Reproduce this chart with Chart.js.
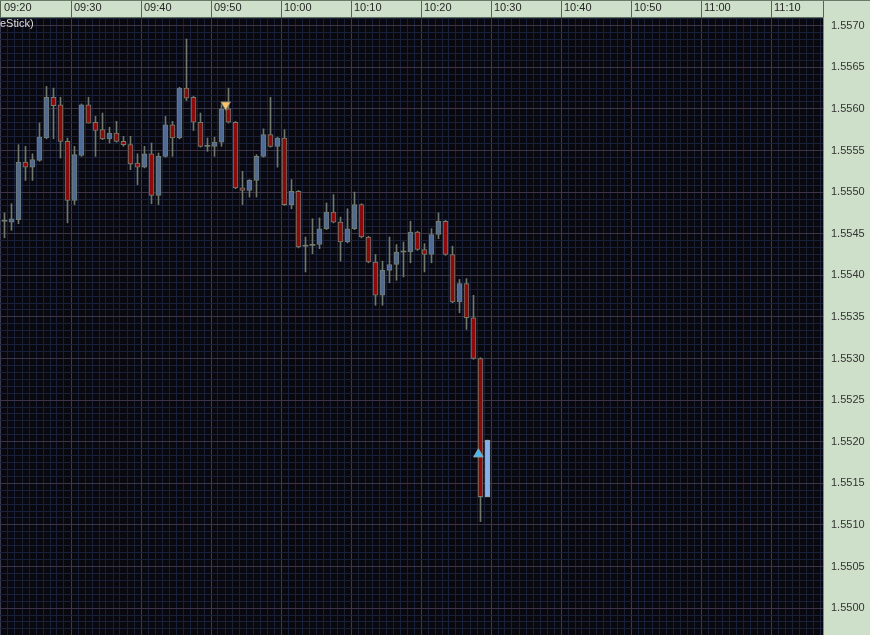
<!DOCTYPE html>
<html><head><meta charset="utf-8">
<script src="https://cdn.jsdelivr.net/npm/chart.js@4.4.1/dist/chart.umd.min.js"></script>
<style>
html,body{margin:0;padding:0;background:#cfe0ca;overflow:hidden;}
#wrap{position:relative;width:870px;height:635px;}
#topline{position:absolute;left:0;top:0;width:870px;height:1px;background:#6a7a68;}
#title{position:absolute;left:0;top:16px;font:11px 'Liberation Sans',Arial,sans-serif;color:#dcdcdc;line-height:14px;}
</style></head><body>
<div id="wrap"><canvas id="c" width="870" height="635"></canvas><div id="topline"></div><div id="title">eStick)</div></div>
<script>
const times = ['09:20','09:21','09:22','09:23','09:24','09:25','09:26','09:27','09:28','09:29',
'09:30','09:31','09:32','09:33','09:34','09:35','09:36','09:37','09:38','09:39',
'09:40','09:41','09:42','09:43','09:44','09:45','09:46','09:47','09:48','09:49',
'09:50','09:51','09:52','09:53','09:54','09:55','09:56','09:57','09:58','09:59',
'10:00','10:01','10:02','10:03','10:04','10:05','10:06','10:07','10:08','10:09',
'10:10','10:11','10:12','10:13','10:14','10:15','10:16','10:17','10:18','10:19',
'10:20','10:21','10:22','10:23','10:24','10:25','10:26','10:27','10:28','10:29'];

const open = [1.55465,1.55464,1.55467,1.55536,1.55530,1.55538,1.55565,1.55614,1.55605,1.55561,
1.55490,1.55544,1.55605,1.55584,1.55575,1.55564,1.55571,1.55561,1.55557,1.55535,
1.55530,1.55546,1.55496,1.55543,1.55581,1.55565,1.55625,1.55614,1.55584,1.55555,
1.55555,1.55560,1.55600,1.55584,1.55505,1.55502,1.55514,1.55543,1.55569,1.55555,
1.55565,1.55485,1.55501,1.55435,1.55436,1.55437,1.55456,1.55476,1.55464,1.55440,
1.55456,1.55485,1.55446,1.55416,1.55376,1.55406,1.55413,1.55428,1.55428,1.55452,
1.55431,1.55425,1.55449,1.55465,1.55425,1.55368,1.55390,1.55349,1.55300,1.55134];

const high = [1.55475,1.55486,1.55557,1.55555,1.55546,1.55583,1.55627,1.55625,1.55614,1.55565,
1.55555,1.55606,1.55614,1.55591,1.55595,1.55578,1.55585,1.55567,1.55567,1.55546,
1.55555,1.55559,1.55547,1.55591,1.55585,1.55626,1.55684,1.55615,1.55595,1.55565,
1.55566,1.55605,1.55625,1.55585,1.55525,1.55515,1.55545,1.55576,1.55614,1.55566,
1.55575,1.55515,1.55502,1.55446,1.55468,1.55469,1.55487,1.55497,1.55470,1.55480,
1.55500,1.55486,1.55447,1.55425,1.55417,1.55446,1.55437,1.55440,1.55465,1.55453,
1.55438,1.55456,1.55475,1.55466,1.55435,1.55395,1.55396,1.55376,1.55301,1.55202];

const low = [1.55445,1.55454,1.55462,1.55514,1.55514,1.55537,1.55564,1.55564,1.55541,1.55463,
1.55485,1.55543,1.55583,1.55543,1.55563,1.55559,1.55560,1.55555,1.55527,1.55509,
1.55529,1.55486,1.55485,1.55542,1.55543,1.55564,1.55610,1.55574,1.55554,1.55549,
1.55543,1.55555,1.55583,1.55504,1.55485,1.55494,1.55494,1.55542,1.55554,1.55530,
1.55484,1.55480,1.55433,1.55404,1.55426,1.55432,1.55455,1.55463,1.55417,1.55439,
1.55455,1.55445,1.55415,1.55364,1.55364,1.55391,1.55394,1.55398,1.55415,1.55430,
1.55404,1.55415,1.55444,1.55424,1.55367,1.55355,1.55335,1.55299,1.55104,1.55134];

const close = [1.55465,1.55468,1.55536,1.55530,1.55539,1.55566,1.55614,1.55604,1.55561,1.55490,
1.55545,1.55605,1.55583,1.55574,1.55564,1.55571,1.55561,1.55557,1.55534,1.55530,
1.55546,1.55496,1.55543,1.55581,1.55565,1.55625,1.55613,1.55584,1.55555,1.55555,
1.55560,1.55600,1.55584,1.55505,1.55502,1.55514,1.55543,1.55569,1.55555,1.55565,
1.55485,1.55501,1.55434,1.55435,1.55436,1.55456,1.55476,1.55464,1.55440,1.55456,
1.55485,1.55446,1.55416,1.55376,1.55406,1.55413,1.55428,1.55428,1.55452,1.55431,
1.55425,1.55449,1.55465,1.55425,1.55368,1.55390,1.55349,1.55300,1.55134,1.55202];

const timeLabels = ['09:20','09:30','09:40','09:50','10:00','10:10','10:20','10:30','10:40','10:50','11:00','11:10'];
const priceLabels = ['1.5500','1.5505','1.5510','1.5515','1.5520','1.5525','1.5530','1.5535','1.5540','1.5545','1.5550','1.5555','1.5560','1.5565','1.5570'];

// signal arrows: minutes after 09:20 and price
const sellMarkerMinute = [32.1];
const sellMarkerPrice = [1.55605];
const buyMarkerMinute = [68.2];
const buyMarkerPrice = [1.55185];

const startMin = 9 * 60 + 20;
function toMin(s) { const p = s.split(':').map(Number); return p[0] * 60 + p[1] - startMin; }
const xs = times.map(t => toMin(t) + 0.5);
const lastIdx = open.length - 1;

function bodyColor(i) {
  if (i === lastIdx) return '#86b0ea';
  if (close[i] > open[i]) return '#4e6a95';
  if (close[i] < open[i]) return '#8c0a0a';
  return '#747c70';
}

const X_MIN = -1 / 7, X_MAX = 822 / 7;
const Y_MIN = 1.5496767, Y_MAX = 1.5571046;
const MINOR_Y = 0.0005 / 6;

const gridMinor = '#18203a';
const gridMajorX = '#3b3c52';
const gridMajorY = '#3c3548';
const font = { family: "'Liberation Sans', Arial, sans-serif", size: 11 };

const bgPlugin = {
  id: 'plotBg',
  beforeDraw(chart) {
    const { ctx, chartArea: a } = chart;
    ctx.save();
    ctx.fillStyle = '#08080e';
    ctx.fillRect(a.left, a.top, a.right - a.left, a.bottom - a.top);
    ctx.restore();
  }
};

new Chart(document.getElementById('c'), {
  type: 'bar',
  data: {
    datasets: [
      {
        type: 'line', order: 0, showLine: false,
        data: sellMarkerMinute.map((m, i) => ({ x: m, y: sellMarkerPrice[i] })),
        pointStyle: 'triangle', rotation: 180, pointRadius: 5.5,
        backgroundColor: '#ffc46a', borderColor: '#8c8a78', borderWidth: 1
      },
      {
        type: 'line', order: 0, showLine: false,
        data: buyMarkerMinute.map((m, i) => ({ x: m, y: buyMarkerPrice[i] })),
        pointStyle: 'triangle', rotation: 0, pointRadius: 5.5,
        backgroundColor: '#48b8f0', borderColor: '#8aa0a8', borderWidth: 1
      },
      {
        order: 1, grouped: false,
        data: xs.map((x, i) => ({ x: x, y: [open[i], close[i]] })),
        barThickness: 5, minBarLength: 1, borderSkipped: false,
        backgroundColor: ctx => bodyColor(ctx.dataIndex),
        borderColor: ctx => ctx.dataIndex === lastIdx ? '#9aa49a' : '#737d70',
        borderWidth: ctx => (open[ctx.dataIndex] === close[ctx.dataIndex]) ? 0 : 1
      },
      {
        order: 2, grouped: false,
        data: xs.map((x, i) => ({ x: x, y: [low[i], high[i]] })),
        barThickness: 1, borderWidth: 0,
        backgroundColor: '#6f786c'
      }
    ]
  },
  plugins: [bgPlugin],
  options: {
    responsive: false, animation: false, devicePixelRatio: 1,
    layout: { padding: 0, autoPadding: false },
    plugins: { legend: { display: false }, tooltip: { enabled: false } },
    scales: {
      x: {
        type: 'linear', position: 'top', min: X_MIN, max: X_MAX,
        offset: false, bounds: 'data',
        backgroundColor: '#cfe0ca',
        grid: {
          offset: false, lineWidth: 1, drawTicks: true, tickLength: 17,
          color: ctx => (ctx.tick && ctx.tick.major) ? gridMajorX : gridMinor,
          tickColor: ctx => (ctx.tick && ctx.tick.major) ? '#56664f' : 'rgba(0,0,0,0)'
        },
        border: { display: true, color: '#5e6e5c', width: 1 },
        ticks: {
          autoSkip: false, maxRotation: 0, minRotation: 0, align: 'start',
          labelOffset: 3, padding: -15, color: '#262626', font: font,
          callback: (v, i, ticks) => {
            const t = ticks[i];
            if (t.label10 === undefined) return '';
            return timeLabels[t.label10] || '';
          }
        },
        afterBuildTicks: scale => {
          const t = [];
          for (let m = 0; m <= 117; m++) {
            const o = { value: m, major: m % 10 === 0 };
            if (m % 10 === 0) o.label10 = m / 10;
            t.push(o);
          }
          t.push({ value: X_MAX, major: true });
          scale.ticks = t;
        },
        afterFit: scale => {
          scale.height = 17;
          scale.paddingLeft = 0; scale.paddingRight = 0; scale.paddingTop = 0; scale.paddingBottom = 0;
        }
      },
      y: {
        type: 'linear', position: 'right', min: Y_MIN, max: Y_MAX,
        bounds: 'data', beginAtZero: false,
        grid: {
          lineWidth: 1, drawTicks: false,
          color: ctx => (ctx.tick && ctx.tick.major) ? gridMajorY : gridMinor
        },
        border: { display: true, color: '#7c8c7a', width: 1 },
        ticks: {
          autoSkip: false, padding: 8, crossAlign: 'near', color: '#333333', font: font,
          callback: (v, i, ticks) => {
            const t = ticks[i];
            return (t.pl !== undefined) ? priceLabels[t.pl] : '';
          }
        },
        afterBuildTicks: scale => {
          const t = [];
          for (let k = -3; k <= 85; k++) {
            const v = 1.5500 + k * MINOR_Y;
            if (v < Y_MIN || v > Y_MAX) continue;
            const o = { value: v, major: k % 6 === 0 };
            if (k % 6 === 0) o.pl = k / 6;
            t.push(o);
          }
          scale.ticks = t;
        },
        afterFit: scale => {
          scale.width = 47;
          scale.paddingLeft = 0; scale.paddingRight = 0; scale.paddingTop = 0; scale.paddingBottom = 0;
        }
      }
    }
  }
});
</script>
</body></html>
